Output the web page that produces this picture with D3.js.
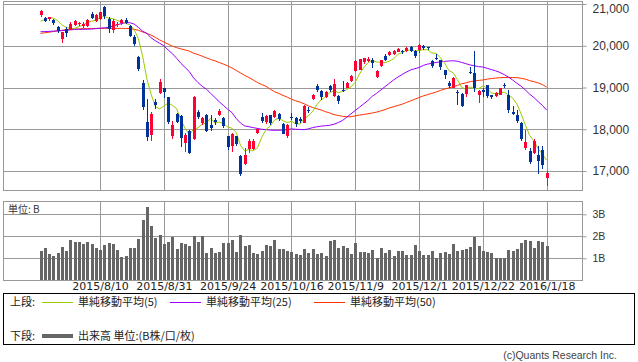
<!DOCTYPE html>
<html><head><meta charset="utf-8">
<script src="https://cdn.jsdelivr.net/npm/d3@7"></script>
<style>body{margin:0;background:#fff}svg{display:block}</style>
</head><body><svg id="c" width="638" height="362"></svg>
<script>
const dates = [
"2015/7/21","2015/7/22","2015/7/23","2015/7/24","2015/7/27","2015/7/28","2015/7/29","2015/7/30","2015/7/31",
"2015/8/3","2015/8/4","2015/8/5","2015/8/6","2015/8/7","2015/8/10","2015/8/11","2015/8/12","2015/8/13","2015/8/14","2015/8/17","2015/8/18","2015/8/19","2015/8/20","2015/8/21","2015/8/24","2015/8/25","2015/8/26","2015/8/27","2015/8/28","2015/8/31",
"2015/9/1","2015/9/2","2015/9/3","2015/9/4","2015/9/7","2015/9/8","2015/9/9","2015/9/10","2015/9/11","2015/9/14","2015/9/15","2015/9/16","2015/9/17","2015/9/18","2015/9/24","2015/9/25","2015/9/28","2015/9/29","2015/9/30",
"2015/10/1","2015/10/2","2015/10/5","2015/10/6","2015/10/7","2015/10/8","2015/10/9","2015/10/13","2015/10/14","2015/10/15","2015/10/16","2015/10/19","2015/10/20","2015/10/21","2015/10/22","2015/10/23","2015/10/26","2015/10/27","2015/10/28","2015/10/29","2015/10/30",
"2015/11/2","2015/11/4","2015/11/5","2015/11/6","2015/11/9","2015/11/10","2015/11/11","2015/11/12","2015/11/13","2015/11/16","2015/11/17","2015/11/18","2015/11/19","2015/11/20","2015/11/24","2015/11/25","2015/11/26","2015/11/27","2015/11/30",
"2015/12/1","2015/12/2","2015/12/3","2015/12/4","2015/12/7","2015/12/8","2015/12/9","2015/12/10","2015/12/11","2015/12/14","2015/12/15","2015/12/16","2015/12/17","2015/12/18","2015/12/21","2015/12/22","2015/12/24","2015/12/25","2015/12/28","2015/12/29","2015/12/30",
"2016/1/4","2016/1/5","2016/1/6","2016/1/7","2016/1/8","2016/1/12","2016/1/13","2016/1/14","2016/1/15","2016/1/18"];

const opens = [20740,20660,20640,20620,20440,20160,20410,20410,20490,20530,20470,20480,20760,20600,20640,20920,20650,20380,20500,20540,
20620,20480,20200,19720,19100,18180,17860,18660,18870,18990,18780,17840,18370,18310,17660,17950,17760,18420,18140,18340,
18100,18230,18330,18260,17830,17590,17830,17350,17160,17520,17520,17900,18290,18170,18330,18300,18370,18130,17840,18300,
18280,18240,18160,18450,18720,19030,18920,18770,19030,18790,18800,18930,19000,19150,19400,19420,19600,19630,19660,19250,
19520,19760,19780,19800,19860,19880,19870,19970,19880,19910,20000,19960,19630,19700,19650,19410,19100,18990,18900,18850,
18850,19380,19350,18820,18950,19050,18820,18800,18830,19070,18820,18420,18340,18150,17540,17470,17420,17380,17510,16840];
const highs = [20860,20690,20700,20650,20480,20340,20450,20580,20620,20580,20560,20650,20800,20750,20820,20946,20680,20640,20560,20650,
20660,20500,20250,19750,19180,18730,18420,18720,19200,19000,18780,18200,18400,18330,17900,17980,18790,18450,18300,18360,
18340,18270,18480,18290,17850,17900,17850,17380,17550,17760,17760,18040,18380,18350,18340,18460,18380,18150,18120,18400,
18290,18300,18580,18540,18840,19080,18930,18910,19070,19200,18830,19150,19130,19290,19650,19680,19710,19720,19700,19410,
19650,19800,19880,19890,19950,19900,19960,20000,19900,20030,20010,19980,19650,19800,19660,19420,19160,19240,18940,18860,
19060,19500,19870,18940,19000,19060,18830,18900,19000,19100,18950,18550,18470,18170,17980,17560,17760,17600,17610,17000];
const lows = [20700,20560,20600,20500,20300,20060,20200,20380,20470,20480,20430,20460,20640,20580,20620,20640,20300,20300,20460,20500,
20530,20200,20000,19400,18470,17730,17720,18480,18850,18760,18130,17770,18140,17580,17460,17400,17740,18250,18100,17930,
17950,18100,18320,18040,17500,17460,17600,16890,17150,17420,17500,17880,18140,18130,18100,18270,18200,17880,17790,18230,
18060,18150,18150,18390,18700,18900,18700,18740,18900,18780,18600,18900,18990,19120,19380,19410,19560,19600,19460,19230,
19500,19640,19750,19780,19850,19800,19860,19860,19700,19830,19900,19900,19460,19660,19430,19200,19000,18980,18580,18530,
18780,19330,18890,18630,18780,18740,18730,18770,18820,19000,18390,18330,18160,17720,17500,17160,17400,16930,17050,16650];
const closes = [20842,20594,20684,20545,20350,20329,20303,20523,20585,20548,20520,20614,20664,20725,20809,20721,20393,20596,20519,20620,
20554,20223,20034,19436,18541,17807,18377,18574,19136,18890,18166,18095,18182,17792,17860,17427,18771,18300,18264,17966,
18026,18172,18432,18070,17572,17881,17645,16931,17388,17722,17725,18005,18186,18323,18141,18439,18235,17891,18097,18292,
18131,18207,18554,18436,18825,18947,18777,18903,18936,19083,18683,18927,19116,19266,19643,19671,19698,19691,19597,19394,
19650,19650,19860,19880,19925,19848,19944,19884,19747,20012,19938,19940,19504,19698,19493,19301,19047,19230,18883,18566,
19050,19354,18987,18916,18887,18790,18769,18873,18982,19034,18451,18374,18191,17767,17698,17219,17716,17241,17147,16956];
const prevCloses = [20385,20463,20600,20651];

const volumes = [1.32,1.47,1.18,1.09,1.23,1.50,1.33,1.82,1.73,1.73,1.64,1.73,1.64,1.47,1.38,1.59,1.68,1.64,1.36,1.05,
1.09,1.47,1.47,1.88,2.73,3.32,2.45,1.91,2.05,1.64,1.73,1.95,1.41,1.68,1.64,1.55,2.00,1.73,2.00,1.23,
1.45,1.23,1.27,1.68,1.68,1.82,1.27,2.05,1.55,1.59,1.23,1.18,1.32,1.59,1.55,1.82,1.41,1.41,1.32,1.27,
1.18,1.17,1.41,1.23,1.44,1.18,1.23,1.09,1.77,1.82,1.45,1.55,1.45,1.18,1.68,1.27,1.27,1.23,1.36,1.00,
1.45,1.23,1.36,1.09,1.32,1.32,1.14,1.14,1.59,1.32,1.14,1.14,1.32,1.00,1.23,1.27,1.18,1.64,1.32,1.36,
1.41,1.50,1.95,1.55,1.32,1.27,1.23,1.00,1.00,1.00,1.36,1.32,1.41,1.68,1.82,1.77,1.45,1.77,1.73,1.55];

const ma25 = [20336,20340,20345,20350,20355,20360,20370,20380,20390,20392,20394,20396,20400,20410,20420,20430,20440,20470,20500,20530,
20550,20552,20520,20440,20350,20296,20190,20120,20060,20000,19900,19810,19700,19580,19480,19380,19230,19120,19030,18960,
18860,18760,18660,18570,18480,18400,18260,18150,18080,18060,18040,18020,18000,17990,17980,17975,17975,17980,17990,18010,
18000,17995,17990,18010,18040,18060,18075,18085,18095,18120,18160,18210,18290,18370,18450,18530,18610,18690,18790,18860,
18940,19020,19100,19180,19250,19310,19370,19420,19450,19480,19530,19560,19580,19600,19615,19625,19635,19640,19630,19600,
19570,19540,19520,19500,19490,19460,19430,19400,19360,19310,19250,19180,19100,19030,18940,18840,18760,18660,18570,18456];
const ma50 = [20296,20310,20325,20340,20355,20370,20385,20395,20400,20405,20408,20410,20412,20414,20416,20416,20416,20416,20416,20416,
20416,20410,20395,20370,20330,20296,20255,20200,20140,20090,20040,19990,19955,19925,19900,19870,19820,19790,19750,19710,
19670,19640,19600,19560,19520,19470,19410,19350,19290,19240,19180,19120,19070,19030,18960,18900,18860,18810,18770,18720,
18680,18650,18610,18560,18520,18490,18460,18420,18390,18350,18330,18310,18300,18300,18320,18340,18355,18370,18390,18410,
18440,18470,18510,18540,18570,18600,18640,18680,18720,18760,18800,18830,18860,18890,18930,18960,18990,19020,19050,19090,
19110,19140,19155,19170,19180,19200,19215,19225,19235,19240,19240,19240,19235,19220,19200,19165,19140,19110,19070,19010];

const priceTicks = [17000,18000,19000,20000,21000];
const volTicks = [1,2,3];
const dateTicks = ["2015/8/10","2015/8/31","2015/9/24","2015/10/16","2015/11/9","2015/12/1","2015/12/22","2016/1/18"];
const legendItems = [
  {label:"単純移動平均(5)", color:"#99cc00"},
  {label:"単純移動平均(25)", color:"#9900ff"},
  {label:"単純移動平均(50)", color:"#ff3300"}];

const svg = d3.select("#c");
svg.append("rect").attr("width",638).attr("height",362).attr("fill","#fff");

const L = 3.5, R = 582.5, PT = 1.5, PB = 190.5, VT = 201.5, VB = 280.5;
const x = d3.scaleLinear().domain([0, dates.length - 1]).range([40.5, 546.7]);
const yP = d3.scaleLinear().domain([17000, 21000]).range([171, 4]);
const yV = d3.scaleLinear().domain([0, 3]).range([280.3, 214.3]);
const px = i => Math.round(x(i));
const tickIdx = dateTicks.map(d => dates.indexOf(d));
const grid = "#999";

// ---- Price panel grid
const gP = svg.append("g");
gP.selectAll(".hg").data(priceTicks).join("line")
  .attr("x1", L).attr("x2", R)
  .attr("y1", d => Math.round(yP(d)) + 0.5).attr("y2", d => Math.round(yP(d)) + 0.5)
  .attr("stroke", grid);
gP.selectAll(".vg").data(tickIdx).join("line")
  .attr("x1", d => px(d) + 0.5).attr("x2", d => px(d) + 0.5)
  .attr("y1", PT).attr("y2", PB).attr("stroke", grid);
gP.append("rect").attr("x", L).attr("y", PT).attr("width", R - L).attr("height", PB - PT)
  .attr("fill", "none").attr("stroke", grid);

// price axis
const axP = svg.append("g").attr("transform", `translate(${R},0)`)
  .call(d3.axisRight(yP).tickValues(priceTicks).tickFormat(d3.format(",")).tickSize(4).tickPadding(6));
axP.select(".domain").remove();
axP.selectAll(".tick line").attr("stroke", grid);
axP.selectAll("text").attr("font-family", "Liberation Sans, Arial, sans-serif").attr("font-size", 12).attr("fill", "#333")
  .attr("dy", d => d === 21000 ? "0.72em" : "0.32em");

// moving averages
const allCloses = prevCloses.concat(closes);
const ma5 = closes.map((c, i) => d3.mean(allCloses.slice(i, i + 5)));
const lineGen = d3.line().x((d, i) => x(i)).y(d => yP(d));
[[ma50, "#ff3300"], [ma25, "#9900ff"], [ma5, "#99cc00"]].forEach(([arr, col]) => {
  gP.append("path").datum(arr).attr("d", lineGen).attr("fill", "none").attr("stroke", col).attr("stroke-width", 1);
});

// candles
const cd = dates.map((d, i) => ({i, o: opens[i], h: highs[i], l: lows[i], c: closes[i]}));
const col = d => d.c >= d.o ? "#ff0033" : "#003399";
const gC = gP.append("g").attr("shape-rendering", "crispEdges");
gC.selectAll(".wk").data(cd).join("line")
  .attr("x1", d => px(d.i) + 0.5).attr("x2", d => px(d.i) + 0.5)
  .attr("y1", d => yP(d.h)).attr("y2", d => yP(d.l)).attr("stroke", col);
gC.selectAll(".bd").data(cd).join("rect")
  .attr("x", d => px(d.i) - 1).attr("width", 3)
  .attr("y", d => yP(Math.max(d.o, d.c)))
  .attr("height", d => Math.max(1, Math.abs(yP(d.o) - yP(d.c))))
  .attr("fill", col);

// ---- Volume panel
const gV = svg.append("g");
gV.selectAll(".hg").data(volTicks).join("line")
  .attr("x1", L).attr("x2", R)
  .attr("y1", d => Math.round(yV(d)) + 0.5).attr("y2", d => Math.round(yV(d)) + 0.5)
  .attr("stroke", grid);
gV.selectAll(".vg").data(tickIdx).join("line")
  .attr("x1", d => px(d) + 0.5).attr("x2", d => px(d) + 0.5)
  .attr("y1", VT).attr("y2", VB).attr("stroke", grid);
gV.append("g").attr("shape-rendering", "crispEdges").selectAll("rect").data(volumes).join("rect")
  .attr("x", (d, i) => px(i) - 1).attr("width", 3)
  .attr("y", d => yV(d)).attr("height", d => yV(0) - yV(d)).attr("fill", "#666");
gV.append("rect").attr("x", L).attr("y", VT).attr("width", R - L).attr("height", VB - VT)
  .attr("fill", "none").attr("stroke", grid);
gV.append("text").attr("x", 8).attr("y", 213).text("単位: B")
  .attr("font-family", "Noto Sans CJK JP, sans-serif").attr("font-size", 10).attr("fill", "#333");

const axV = svg.append("g").attr("transform", `translate(${R},0)`)
  .call(d3.axisRight(yV).tickValues(volTicks).tickFormat(d => d + "B").tickSize(4).tickPadding(6));
axV.select(".domain").remove();
axV.selectAll(".tick line").attr("stroke", grid);
axV.selectAll("text").attr("font-family", "Liberation Sans, Arial, sans-serif").attr("font-size", 10.5).attr("fill", "#333");

// date axis
const axX = svg.append("g").attr("transform", `translate(0,${VB})`)
  .call(d3.axisBottom(x).tickValues(tickIdx).tickFormat(i => dates[i]).tickSize(0).tickPadding(2));
axX.select(".domain").remove();
axX.selectAll("text").attr("font-family", "DejaVu Sans, sans-serif").attr("font-size", 11).attr("fill", "#222");

// ---- Legend
const lg = svg.append("g");
lg.append("rect").attr("x", 3.5).attr("y", 293.5).attr("width", 631).attr("height", 51)
  .attr("fill", "none").attr("stroke", "#000");
const ff = "Noto Sans CJK JP, sans-serif";
lg.append("text").attr("x", 10).attr("y", 306).text("上段:").attr("font-family", ff).attr("font-size", 11).attr("fill", "#222");
const lx = [42, 170, 314];
legendItems.forEach((it, k) => {
  lg.append("line").attr("x1", lx[k]).attr("x2", lx[k] + 31).attr("y1", 302.5).attr("y2", 302.5).attr("stroke", it.color);
  lg.append("text").attr("x", lx[k] + 36).attr("y", 306).text(it.label).attr("font-family", ff).attr("font-size", 11).attr("fill", "#222");
});
lg.append("text").attr("x", 10).attr("y", 340).text("下段:").attr("font-family", ff).attr("font-size", 11).attr("fill", "#222");
lg.append("line").attr("x1", 42).attr("x2", 73).attr("y1", 336).attr("y2", 336).attr("stroke", "#666").attr("stroke-width", 4);
lg.append("text").attr("x", 78).attr("y", 340).text("出来高 単位:(B株/口/枚)").attr("font-family", ff).attr("font-size", 11).attr("fill", "#222");

svg.append("text").attr("x", 617).attr("y", 359).attr("text-anchor", "end").text("(c)Quants Research Inc.")
  .attr("font-family", "Liberation Sans, Arial, sans-serif").attr("font-size", 10.5).attr("fill", "#444");
</script></body></html>
